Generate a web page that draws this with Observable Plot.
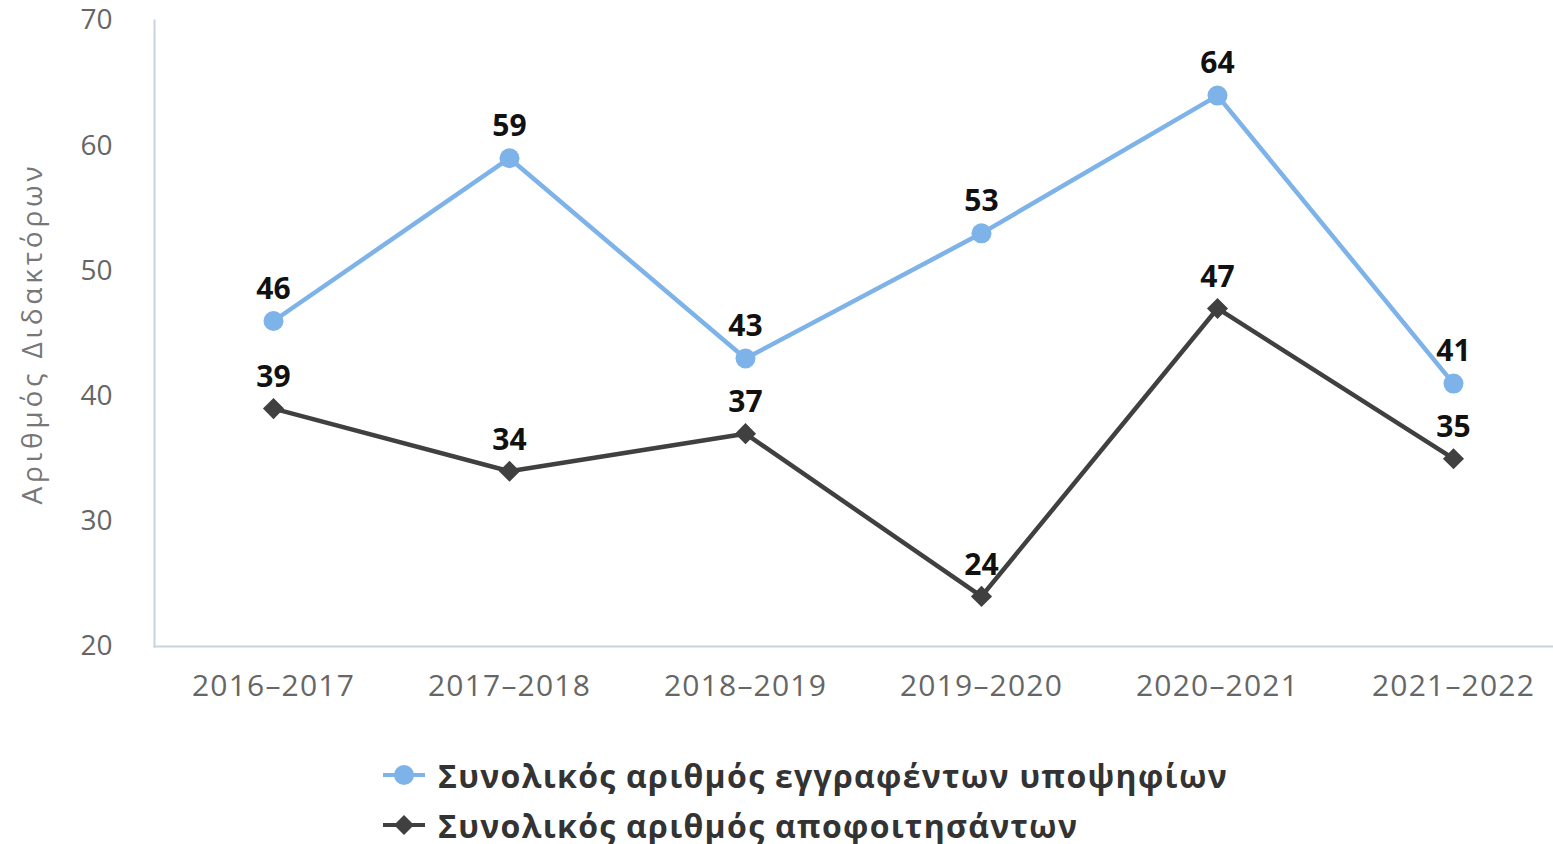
<!DOCTYPE html>
<html>
<head>
<meta charset="utf-8">
<script src="https://cdn.jsdelivr.net/npm/d3@7"></script>
<script src="https://cdn.jsdelivr.net/npm/@observablehq/plot@0.6"></script>
<style>
  html, body { margin: 0; padding: 0; background: #fff; }
  #chart { width: 1553px; }
  #chart > svg { display: block; }
  .legend { margin-left: 383px; margin-top: 30px; font-family: "Open Sans", sans-serif; font-weight: bold; font-size: 32px; color: #333; letter-spacing: 1.3px; }
  .legend .row { display: flex; align-items: center; height: 50px; white-space: nowrap; }
  .legend svg { margin-right: 13px; flex: none; }
</style>
</head>
<body>
<div id="chart"></div>
<script>
const years = ["2016–2017", "2017–2018", "2018–2019", "2019–2020", "2020–2021", "2021–2022"];
const enrolled = [46, 59, 43, 53, 64, 41];
const graduated = [39, 34, 37, 24, 47, 35];
const yTicks = [20, 30, 40, 50, 60, 70];
const yLabel = "Αριθμός Διδακτόρων";
const seriesNames = ["Συνολικός αριθμός εγγραφέντων υποψηφίων", "Συνολικός αριθμός αποφοιτησάντων"];
const colors = ["#7db3e8", "#404040"];

const enrolledData = years.map((y, i) => ({year: y, value: enrolled[i]}));
const graduatedData = years.map((y, i) => ({year: y, value: graduated[i]}));

const container = document.getElementById("chart");

const chart = Plot.plot({
  width: 1553,
  height: 720,
  marginTop: 20,
  marginBottom: 74,
  marginLeft: 154,
  marginRight: 0,
  style: {fontFamily: "'Open Sans', sans-serif", background: "#fff", overflow: "visible"},
  x: {type: "band", domain: years, range: [154, 1571], padding: 0, label: null},
  y: {domain: [20, 70], label: null},
  marks: [
    Plot.frame({anchor: "left", stroke: "#c9d3df", strokeWidth: 2}),
    Plot.frame({anchor: "bottom", stroke: "#c9d3df", strokeWidth: 2}),
    Plot.axisY({ticks: yTicks, tickSize: 0, tickPadding: 42, fontSize: 28, color: "#666", label: null}),
    Plot.axisX({tickSize: 0, tickPadding: 28, fontSize: 30, color: "#666", label: null}),
    Plot.text([yLabel], {frameAnchor: "left", textAnchor: "middle", rotate: -90, dx: -121, fontSize: 28, fill: "#777"}),
    Plot.line(enrolledData, {x: "year", y: "value", stroke: colors[0], strokeWidth: 4.5}),
    Plot.dot(enrolledData, {x: "year", y: "value", r: 10, fill: colors[0], symbol: "circle"}),
    Plot.line(graduatedData, {x: "year", y: "value", stroke: colors[1], strokeWidth: 4.5}),
    Plot.dot(graduatedData, {x: "year", y: "value", r: 9.5, fill: colors[1], symbol: "diamond2"}),
    Plot.text(enrolledData, {x: "year", y: "value", text: d => String(d.value), dy: -32, fontSize: 30, fontWeight: "bold", fill: "#111"}),
    Plot.text(graduatedData, {x: "year", y: "value", text: d => String(d.value), dy: -31, fontSize: 30, fontWeight: "bold", fill: "#111"})
  ]
});
container.appendChild(chart);

// letter spacing tweaks to match wider reference face
d3.select(chart).selectAll('g[aria-label="x-axis tick label"] text').style("letter-spacing", "1.2px");
d3.select(chart).selectAll('g[aria-label="text"]').filter((d, i) => i === 0).selectAll("text").style("letter-spacing", "3.8px");

const legend = document.createElement("div");
legend.className = "legend";
const icons = [
  `<svg width="42" height="24"><line x1="0" y1="12" x2="42" y2="12" stroke="${colors[0]}" stroke-width="4"/><circle cx="21" cy="12" r="10" fill="${colors[0]}"/></svg>`,
  `<svg width="42" height="24"><line x1="0" y1="12" x2="42" y2="12" stroke="${colors[1]}" stroke-width="4"/><path d="M21,2 L31,12 L21,22 L11,12 Z" fill="${colors[1]}"/></svg>`
];
seriesNames.forEach((name, i) => {
  const row = document.createElement("div");
  row.className = "row";
  row.innerHTML = icons[i] + "<span>" + name + "</span>";
  legend.appendChild(row);
});
container.appendChild(legend);
</script>
</body>
</html>
